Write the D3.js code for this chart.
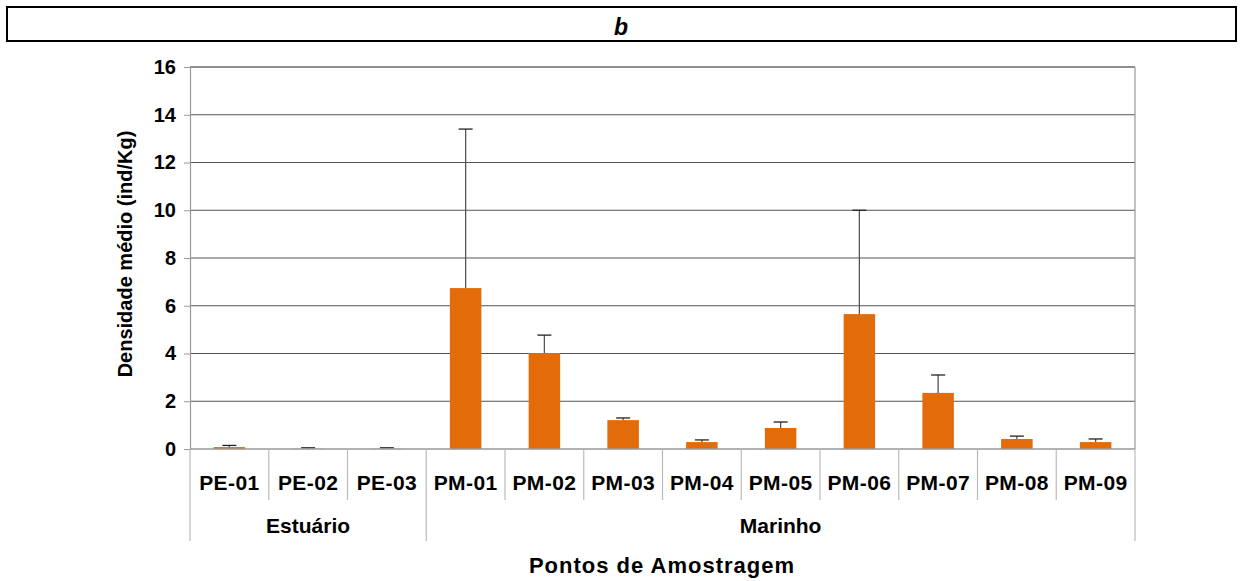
<!DOCTYPE html>
<html><head><meta charset="utf-8">
<script src="https://cdn.jsdelivr.net/npm/d3@7"></script>
<style>body{margin:0;background:#fff;} text{font-family:"Liberation Sans",Arial,sans-serif;font-weight:bold;}</style>
</head><body>
<svg id="c" width="1243" height="581"></svg>
<script>
const categories = ["PE-01","PE-02","PE-03","PM-01","PM-02","PM-03","PM-04","PM-05","PM-06","PM-07","PM-08","PM-09"];
const means = [0.08,0.01,0.01,6.74,4.02,1.21,0.29,0.88,5.65,2.35,0.42,0.29];
const errTops = [0.15,0.05,0.05,13.4,4.77,1.3,0.38,1.13,10.0,3.1,0.54,0.42];
const groups = [{name:"Estuário", from:0, to:3},{name:"Marinho", from:3, to:12}];
const yTicks = [0,2,4,6,8,10,12,14,16];

const svg = d3.select("#c");
const L=190, R=1135, T=67, B=449;
const x = d3.scaleBand().domain(categories).range([L,R]).paddingInner(0.6).paddingOuter(0.3);
const xb = d3.scaleLinear().domain([0,categories.length]).range([L,R]);
const y = d3.scaleLinear().domain([0,16]).range([B,T]);

// title box
svg.append("rect").attr("x",7).attr("y",7).attr("width",1229).attr("height",34)
  .attr("fill","none").attr("stroke","#000").attr("stroke-width",2);
svg.append("text").attr("x",621).attr("y",35).attr("text-anchor","middle")
  .attr("font-size",23).attr("font-style","italic").text("b");

// gridlines
svg.append("g").selectAll("line").data(yTicks.filter(d=>d>0)).join("line")
  .attr("x1",L).attr("x2",R).attr("y1",d=>y(d)).attr("y2",d=>y(d))
  .attr("stroke",d=>d===16?"#222":"#555").attr("stroke-width",1.2);
// right border
svg.append("line").attr("x1",R).attr("x2",R).attr("y1",T).attr("y2",B).attr("stroke","#999").attr("stroke-width",1.2);

// y axis
const ya = svg.append("g").attr("transform",`translate(${L},0)`)
  .call(d3.axisLeft(y).tickValues(yTicks).tickSize(6).tickPadding(8));
ya.select(".domain").attr("stroke","#999").attr("stroke-width",1.2);
ya.selectAll(".tick line").attr("stroke","#999");
ya.selectAll("text").attr("font-size",20).attr("fill","#000").attr("font-family","Liberation Sans, Arial").attr("font-weight","bold");

// bars
svg.append("g").selectAll("rect").data(categories).join("rect")
  .attr("x",d=>x(d)).attr("width",x.bandwidth())
  .attr("y",(d,i)=>y(means[i])).attr("height",(d,i)=>y(0)-y(means[i]))
  .attr("fill","#E36C0A");

// error bars
const eg = svg.append("g");
categories.forEach((c,i)=>{
  const cx = x(c)+x.bandwidth()/2;
  eg.append("line").attr("x1",cx).attr("x2",cx).attr("y1",y(means[i])).attr("y2",y(errTops[i]))
    .attr("stroke","#555").attr("stroke-width",1.3);
  eg.append("line").attr("x1",cx-7).attr("x2",cx+7).attr("y1",y(errTops[i])).attr("y2",y(errTops[i]))
    .attr("stroke","#222").attr("stroke-width",1.3);
});

// x baseline
svg.append("line").attr("x1",L).attr("x2",R).attr("y1",B).attr("y2",B).attr("stroke","#999").attr("stroke-width",1.5);

// category separators
const gb = new Set([0,3,12]);
d3.range(categories.length+1).forEach(i=>{
  svg.append("line").attr("x1",xb(i)).attr("x2",xb(i)).attr("y1",B)
    .attr("y2",gb.has(i)?541:500).attr("stroke","#bbb").attr("stroke-width",1.2);
});
// category labels
svg.append("g").selectAll("text").data(categories).join("text")
  .attr("x",(d,i)=>xb(i+0.5)).attr("y",490).attr("text-anchor","middle")
  .attr("font-size",21).attr("letter-spacing",0.4).text(d=>d);
// group labels
svg.append("g").selectAll("text").data(groups).join("text")
  .attr("x",d=>(xb(d.from)+xb(d.to))/2).attr("y",533).attr("text-anchor","middle")
  .attr("font-size",21).text(d=>d.name);

// axis titles
svg.append("text").attr("x",662).attr("y",573).attr("text-anchor","middle").attr("font-size",22).attr("letter-spacing",1).text("Pontos de Amostragem");
svg.append("text").attr("transform",`translate(132,254) rotate(-90)`).attr("text-anchor","middle")
  .attr("font-size",20).text("Densidade médio (ind/Kg)");
</script>
</body></html>
